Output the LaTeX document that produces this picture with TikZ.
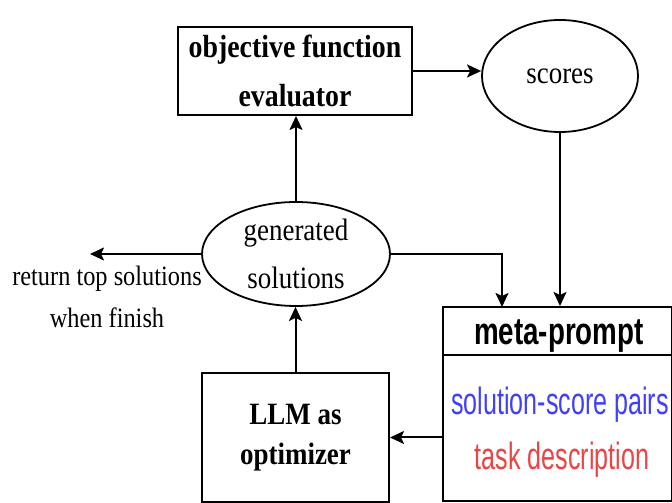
\documentclass[tikz,border=0pt]{standalone}
\usepackage{fontspec}
\setmainfont{Liberation Serif}[FakeStretch=0.87]
\newfontfamily\promptfont{Liberation Sans}[FakeStretch=0.66]
\newfontfamily\promptheadfont{Liberation Sans}[FakeStretch=0.73]
\usetikzlibrary{arrows.meta, shapes.geometric}
\definecolor{pairblue}{RGB}{64,64,250}
\definecolor{taskred}{RGB}{235,68,68}

\begin{document}
\begin{tikzpicture}[x=1pt, y=1pt,
    box/.style={draw, line width=2pt, inner sep=0pt},
    oval/.style={draw, ellipse, line width=1.8pt, inner sep=0pt},
    flow/.style={line width=2pt, -{Stealth[length=14pt, width=13pt, inset=3pt]}},
    prompttext/.style={anchor=base, font=\promptfont\fontsize{38}{44}\selectfont}]
    \useasboundingbox (0,0) rectangle (672,503);
    \node[box, minimum width=234, minimum height=88, align=center,
        font=\fontsize{32}{49}\selectfont\bfseries] (evaluator) at (295,432) {objective function\\evaluator};
    \node[oval, minimum width=156, minimum height=112,
        font=\fontsize{31}{48}\selectfont] (scores) at (560,427) {scores};
    \node[oval, minimum width=188, minimum height=104, align=center,
        font=\fontsize{31}{48}\selectfont] (gen) at (296,249) {generated\\solutions};
    \node[align=center, font=\fontsize{28}{42}\selectfont] (ret) at (107,206) {return top solutions\\when finish};
    \node[box, minimum width=187, minimum height=129, align=center,
        font=\fontsize{31}{40}\selectfont\bfseries] (llm) at (295.5,65.5) {LLM as\\optimizer};
    \node[box, minimum width=229, minimum height=194] (meta) at (557.5,99) {};
    \draw[line width=2pt] ([yshift=-49pt]meta.north west) -- ([yshift=-49pt]meta.north east);
    \node[anchor=base, font=\promptheadfont\bfseries\fontsize{38}{44}\selectfont] (metatitle) at (559,158) {meta-prompt};
    \node[prompttext, text=pairblue] (pairs) at (560,88) {solution-score pairs};
    \node[prompttext, text=taskred] (task) at (562,33) {task description};
    \coordinate (retend) at (90,249);
    \coordinate (metain) at (502,196);
    \draw[flow] (evaluator.east) -- (evaluator.east -| scores.west);
    \draw[flow] (scores.south) -- (scores.south |- meta.north);
    \draw[flow] (gen.north) -- (gen.north |- evaluator.south);
    \draw[flow] (gen.west) -- (retend);
    \draw[flow] (gen.east) -| (metain);
    \draw[flow] (meta.west |- llm.east) -- (llm.east);
    \draw[flow] (llm.north) -- (llm.north |- gen.south);
\end{tikzpicture}
\end{document}
